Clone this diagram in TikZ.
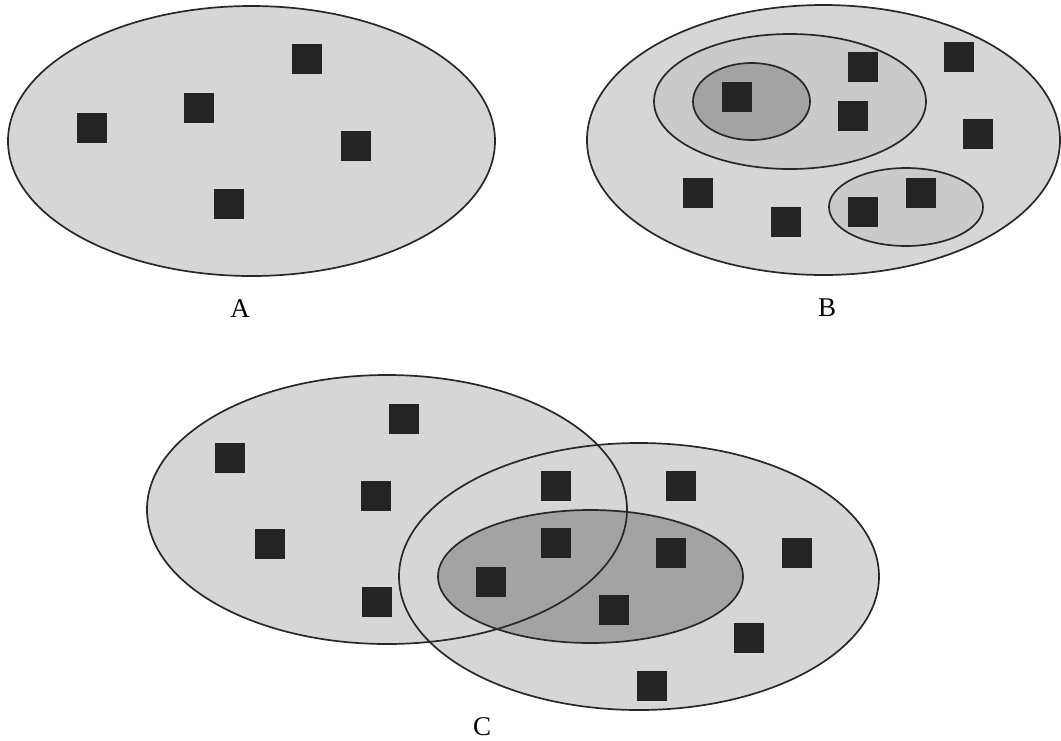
\documentclass[tikz,border=0pt]{standalone}
\usepackage{fontspec}
\setmainfont{Liberation Serif}
\definecolor{lightfill}{RGB}{214,214,214}
\definecolor{midfill}{RGB}{202,202,202}
\definecolor{darkfill}{RGB}{163,163,163}
\definecolor{sqcol}{RGB}{36,36,36}
\definecolor{edgecol}{RGB}{40,40,40}
\tikzset{
  sq/.style={rectangle, fill=sqcol, draw=none, minimum size=30pt, inner sep=0pt, outer sep=0pt},
  edge/.style={draw=edgecol, line width=1.7pt},
  lbl/.style={anchor=base, inner sep=0pt, font=\fontsize{27}{30}\selectfont}
}
\begin{document}
\begin{tikzpicture}[x=1pt,y=-1pt]
\useasboundingbox (0,0) rectangle (1061,740);
% ---------- A ----------
\filldraw[fill=lightfill, edge] (251.5,141) ellipse [x radius=243.5, y radius=135];
\node[sq] (a1) at (307,59) {};
\node[sq] (a2) at (199,108) {};
\node[sq] (a3) at (92,128) {};
\node[sq] (a4) at (356,146) {};
\node[sq] (a5) at (229,204) {};
\node[lbl] (la) at (240,317) {A};
% ---------- B ----------
\filldraw[fill=lightfill, edge] (823.5,140) ellipse [x radius=236.5, y radius=135];
\filldraw[fill=midfill, edge] (790,101.5) ellipse [x radius=136, y radius=67.5];
\filldraw[fill=darkfill, edge] (751.5,101.5) ellipse [x radius=58.5, y radius=38.5];
\filldraw[fill=midfill, edge] (906,207) ellipse [x radius=77, y radius=39];
\node[sq] (b1) at (737,97) {};
\node[sq] (b2) at (862.5,67) {};
\node[sq] (b3) at (959,57) {};
\node[sq] (b4) at (853,116) {};
\node[sq] (b5) at (978,134) {};
\node[sq] (b6) at (698,193) {};
\node[sq] (b7) at (786,222) {};
\node[sq] (b8) at (863,212) {};
\node[sq] (b9) at (921,193) {};
\node[lbl] (lb) at (827,316) {B};
% ---------- C ----------
\fill[lightfill] (387,509.5) ellipse [x radius=240, y radius=134.5];
\fill[lightfill] (639,576.5) ellipse [x radius=240, y radius=133.5];
\fill[darkfill] (590.5,576.5) ellipse [x radius=152.5, y radius=66.5];
\draw[edge] (387,509.5) ellipse [x radius=240, y radius=134.5];
\draw[edge] (639,576.5) ellipse [x radius=240, y radius=133.5];
\draw[edge] (590.5,576.5) ellipse [x radius=152.5, y radius=66.5];
\node[sq] (c1) at (404,419) {};
\node[sq] (c2) at (229.5,458) {};
\node[sq] (c3) at (376,496) {};
\node[sq] (c4) at (269.5,544) {};
\node[sq] (c5) at (376.5,601.5) {};
\node[sq] (c6) at (556,486) {};
\node[sq] (c7) at (680.5,486) {};
\node[sq] (c8) at (556,543) {};
\node[sq] (c9) at (671,553) {};
\node[sq] (c10) at (797,552.5) {};
\node[sq] (c11) at (491,582) {};
\node[sq] (c12) at (614,610) {};
\node[sq] (c13) at (749,638) {};
\node[sq] (c14) at (652,686) {};
\node[lbl] (lc) at (482,735) {C};
\end{tikzpicture}
\end{document}
